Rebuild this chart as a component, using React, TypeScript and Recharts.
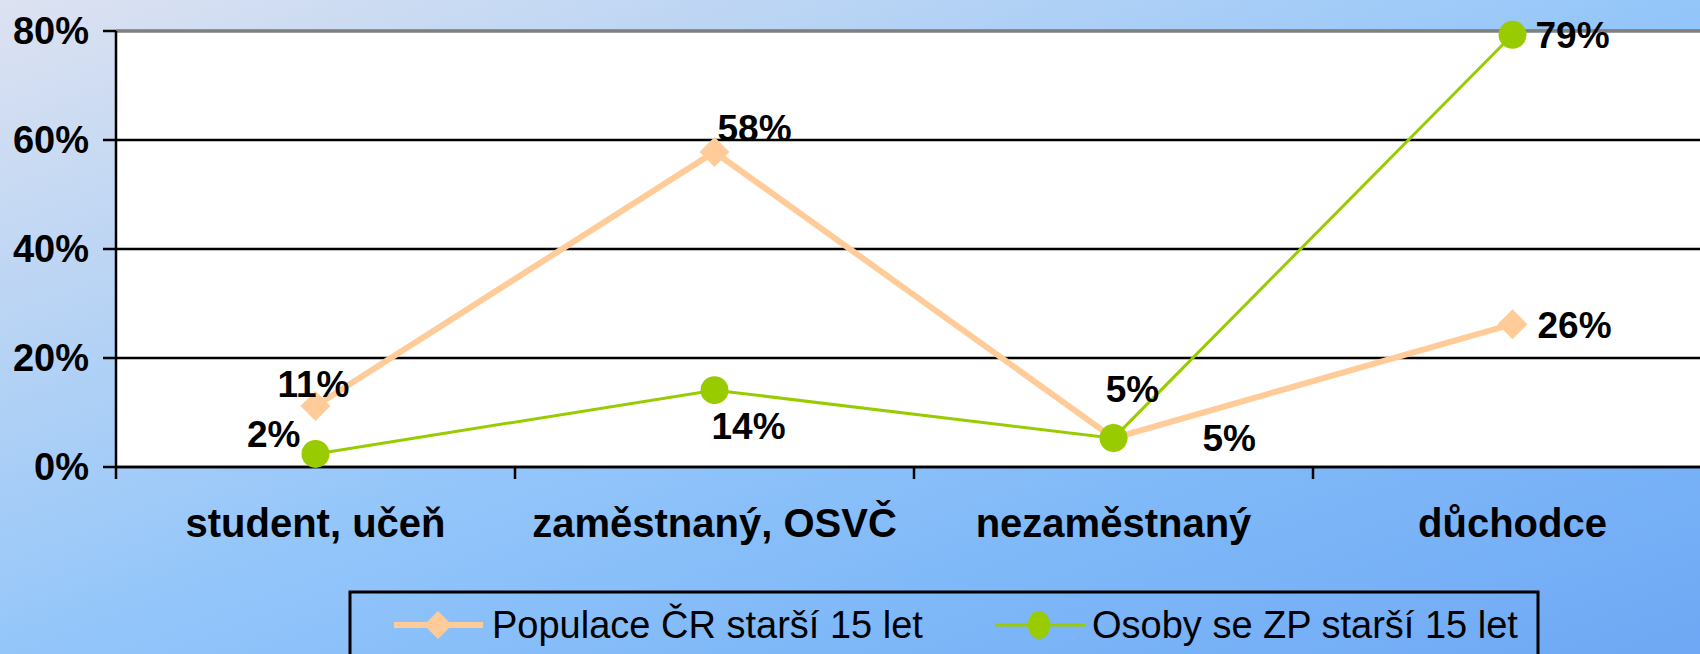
import { LineChart, Line, XAxis, YAxis, CartesianGrid, LabelList, ReferenceLine } from "recharts";

const categories = ["student, učeň", "zaměstnaný, OSVČ", "nezaměstnaný", "důchodce"];
const populace = [11.2, 57.8, 5.3, 26.2];
const osoby = [2.4, 14.1, 5.3, 79.3];
const yTicks = [0, 20, 40, 60, 80];
const seriesNames = ["Populace ČR starší 15 let", "Osoby se ZP starší 15 let"];

const data = categories.map((category, i) => ({
  category,
  populace: populace[i],
  osoby: osoby[i],
}));

// label placement per point, like the hand-moved labels in the original
type LabelPos = { dx: number; dy: number; anchor: "start" | "middle" | "end" };
const populaceLabelPos: LabelPos[] = [
  { dx: -2, dy: -21, anchor: "middle" },
  { dx: 3, dy: -23, anchor: "start" },
  { dx: 89, dy: 0, anchor: "start" },
  { dx: 25, dy: 1, anchor: "start" },
];
const osobyLabelPos: LabelPos[] = [
  { dx: -15, dy: -19, anchor: "end" },
  { dx: -3, dy: 36, anchor: "start" },
  { dx: 19, dy: -49, anchor: "middle" },
  { dx: 23, dy: 1, anchor: "start" },
];

const FONT = '"Liberation Sans", Arial, sans-serif';
const ORANGE = "#FFCC99";
const GREEN = "#99CC00";

const CHART_W = 1720;
const CHART_H = 660;
const Y_AXIS_W = 116;
const MARGIN_RIGHT = 8;
const HALF_BAND = (CHART_W - MARGIN_RIGHT - Y_AXIS_W) / categories.length / 2;

const makeLabel = (pos: LabelPos[]) => (props: any) => {
  const { x, y, value, index } = props;
  const p = pos[index];
  return (
    <text
      x={x + p.dx}
      y={y + p.dy}
      textAnchor={p.anchor}
      dominantBaseline="central"
      fontFamily={FONT}
      fontWeight="bold"
      fontSize={37}
      fill="#000"
    >
      {Math.round(value)}%
    </text>
  );
};

const Diamond = (props: any) => {
  const { cx, cy } = props;
  const s = 15;
  return (
    <path
      d={`M${cx},${cy - s} L${cx + s},${cy} L${cx},${cy + s} L${cx - s},${cy} Z`}
      fill={ORANGE}
    />
  );
};

const Circle = (props: any) => {
  const { cx, cy } = props;
  return <circle cx={cx} cy={cy} r={14} fill={GREEN} />;
};

const CategoryTick = (props: any) => {
  const { x, y, payload } = props;
  const bx = x - HALF_BAND;
  return (
    <g>
      <line x1={bx} y1={y} x2={bx} y2={y + 12} stroke="#000" strokeWidth={2.5} />
      <text
        x={x}
        y={y + 70}
        textAnchor="middle"
        fontFamily={FONT}
        fontWeight="bold"
        fontSize={40}
        fill="#000"
      >
        {payload.value}
      </text>
    </g>
  );
};

const LegendBox = () => (
  <svg
    width={1700}
    height={654}
    style={{ position: "absolute", left: 0, top: 0, pointerEvents: "none" }}
  >
    <rect x={350} y={592} width={1188} height={80} fill="none" stroke="#000" strokeWidth={3} />
    <line x1={394} y1={625} x2={483} y2={625} stroke={ORANGE} strokeWidth={6} />
    <path d="M438,611 L452,625 L438,639 L424,625 Z" fill={ORANGE} />
    <text x={492} y={625} dominantBaseline="central" fontFamily={FONT} fontSize={38} fill="#000">
      {seriesNames[0]}
    </text>
    <line x1={995} y1={625} x2={1085} y2={625} stroke={GREEN} strokeWidth={3} />
    <ellipse cx={1039} cy={625} rx={11} ry={14} fill={GREEN} />
    <text x={1092} y={625} dominantBaseline="central" fontFamily={FONT} fontSize={38} fill="#000">
      {seriesNames[1]}
    </text>
  </svg>
);

const App = () => {
  return (
    <div
      style={{
        position: "fixed",
        left: 0,
        top: 0,
        width: 1700,
        height: 654,
        overflow: "hidden",
        background:
          "linear-gradient(to bottom right, #dde2f1 0%, #b9d4f4 25%, #94c6fa 50%, #80b9f8 72%, #6ea8f4 100%)",
      }}
    >
      <LineChart
        width={CHART_W}
        height={CHART_H}
        data={data}
        margin={{ top: 31, right: MARGIN_RIGHT, bottom: 0, left: 0 }}
      >
        <CartesianGrid vertical={false} stroke="#000" strokeWidth={2.5} fill="#fff" fillOpacity={1} />
        <XAxis
          dataKey="category"
          height={193}
          padding={{ left: HALF_BAND, right: HALF_BAND }}
          tickLine={false}
          tickSize={0}
          tickMargin={0}
          axisLine={{ stroke: "#000", strokeWidth: 2.5 }}
          tick={<CategoryTick />}
          interval={0}
        />
        <YAxis
          width={Y_AXIS_W}
          domain={[0, 80]}
          ticks={yTicks}
          tickFormatter={(v) => `${v}%`}
          axisLine={{ stroke: "#000", strokeWidth: 2.5 }}
          tickLine={{ stroke: "#000", strokeWidth: 2.5 }}
          tickSize={13}
          tickMargin={14}
          tick={{ fontFamily: FONT, fontWeight: "bold", fontSize: 38, fill: "#000" }}
        />
        <ReferenceLine y={80} stroke="#808080" strokeWidth={3} />
        <Line
          dataKey="populace"
          name={seriesNames[0]}
          stroke={ORANGE}
          strokeWidth={6}
          dot={<Diamond />}
          isAnimationActive={false}
        >
          <LabelList dataKey="populace" content={makeLabel(populaceLabelPos)} />
        </Line>
        <Line
          dataKey="osoby"
          name={seriesNames[1]}
          stroke={GREEN}
          strokeWidth={3}
          dot={<Circle />}
          isAnimationActive={false}
        >
          <LabelList dataKey="osoby" content={makeLabel(osobyLabelPos)} />
        </Line>
      </LineChart>
      <LegendBox />
    </div>
  );
};

export default App;
